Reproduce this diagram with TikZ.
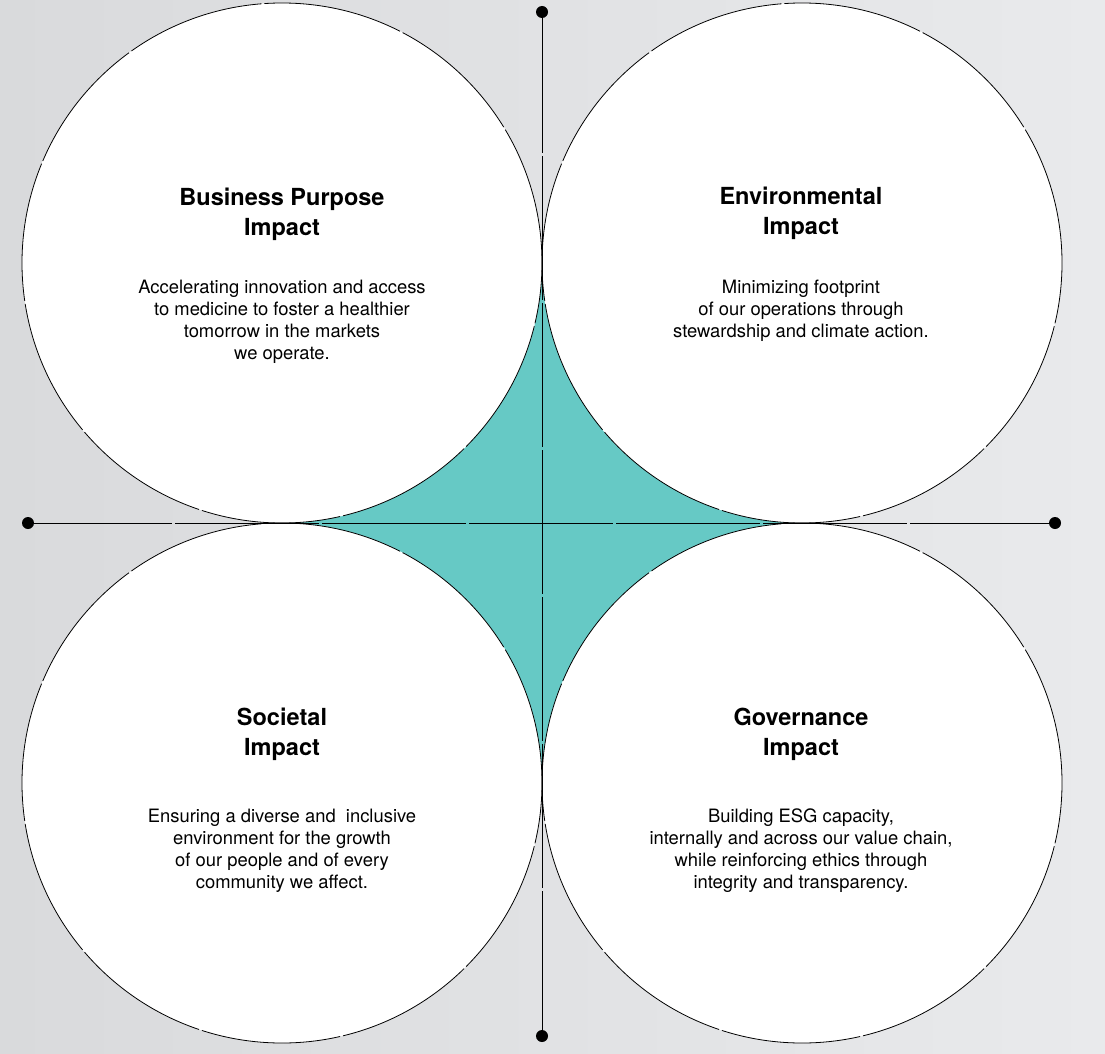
\documentclass[tikz,border=0pt]{standalone}
\usepackage{fontspec}
\setmainfont{TeX Gyre Heros}
\definecolor{bgleft}{HTML}{D9DADC}
\definecolor{bgright}{HTML}{E9EAEC}
\definecolor{teal}{HTML}{66C9C5}
\begin{document}
\begin{tikzpicture}[x=1pt,y=-1pt,
  bubble/.style={circle,fill=white,draw=black,line width=0.8pt,minimum size=520pt,inner sep=0pt,
    dash pattern=on 140pt off 3pt},
  dot/.style={circle,fill=black,minimum size=12pt,inner sep=0pt},
  axis/.style={line width=1pt,dash pattern=on 144pt off 3pt},
  ttl/.style={font=\fontsize{23.5}{30}\selectfont\bfseries,align=center,inner sep=0pt},
  body/.style={font=\fontsize{18.4}{22}\selectfont,align=center,inner sep=0pt}]
\shade[left color=bgleft,right color=bgright] (0,0) rectangle (1105,1054);
\useasboundingbox (0,0) rectangle (1105,1054);
\fill[teal] (282,263) rectangle (802,783);
\node[bubble] (c1) at (282,263) {};
\node[bubble] (c2) at (802,263) {};
\node[bubble] (c3) at (282,783) {};
\node[bubble] (c4) at (802,783) {};
\node[dot] (top) at (542,12) {};
\node[dot] (bot) at (542,1036) {};
\node[dot] (lft) at (28,523) {};
\node[dot] (rgt) at (1055,523) {};
\draw[axis,dash phase=3pt] (top.center) -- (bot.center);
\draw[axis] (lft.center) -- (rgt.center);
\node[ttl] (t1) at (282,214) {Business Purpose\\Impact};
\node[body] (b1) at (282,322) {Accelerating innovation and access\\to medicine to foster a healthier\\tomorrow in the markets\\we operate.};
\node[ttl] (t2) at (801,213) {Environmental\\Impact};
\node[body] (b2) at (801,311) {Minimizing footprint\\of our operations through \\stewardship and climate action.};
\node[ttl] (t3) at (282,734) {Societal\\Impact};
\node[body] (b3) at (282,851) {Ensuring a diverse and\ \ inclusive\\environment for the growth\\of our people and of every\\community we affect.};
\node[ttl] (t4) at (801,734) {Governance\\Impact};
\node[body] (b4) at (801,851) {Building ESG capacity,\\internally and across our value chain,\\while reinforcing ethics through\\integrity and transparency.};
\end{tikzpicture}
\end{document}
